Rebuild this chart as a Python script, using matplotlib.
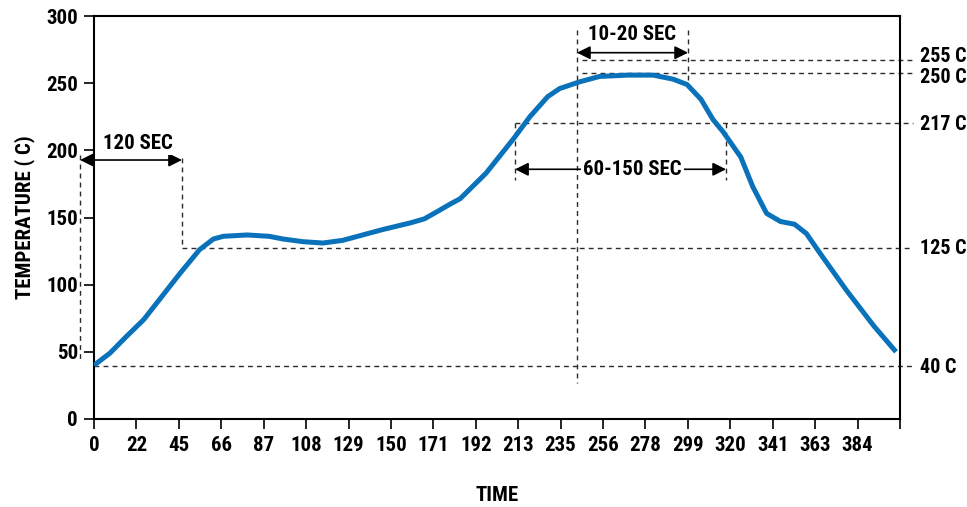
import numpy as np
import matplotlib.pyplot as plt

# reflow profile
time_s = [0, 8, 16, 25, 34, 43, 53, 60, 65, 77, 88, 95, 105, 115, 125, 135, 145,
          159, 166, 172, 179, 184, 197, 211, 219, 228, 234, 244, 254, 268, 281,
          291, 298, 305, 311, 316, 325, 331, 338, 345, 352, 358, 365, 378, 392, 403]
temp_c = [40, 49, 61, 74, 91, 108, 126, 134, 136, 137, 136, 134, 132, 131, 133,
          137, 141, 146, 149, 154, 160, 164, 183, 209, 225, 240, 246, 251, 255,
          256, 256, 253, 249, 238, 223, 214, 195, 173, 153, 147, 145, 138, 123,
          96, 69, 50]

xtick_labels = ['0', '22', '45', '66', '87', '108', '129', '150', '171', '192',
                '213', '235', '256', '278', '299', '320', '341', '363', '384', '']
yticks = [0, 50, 100, 150, 200, 250, 300]

# reference levels (where they sit in the drawing) and their labels
level_y = [267.3, 257.4, 220.2, 127.1, 39.5]
level_x0 = [245, 245, 211.6, 44.2, 0]
level_labels = ['255 C', '250 C', '217 C', '125 C', '40 C']
label_y = [269.7, 253.9, 219.4, 127.0, 38.5]

# vertical guide lines: x, y_top, y_bottom
guides_x = [-7, 44.2, 242.7, 298.5, 211.6, 317.6]
guides_top = [196.5, 194.3, 289.6, 289.6, 220.2, 220.2]
guides_bot = [43.9, 127.1, 26.8, 248.6, 177.9, 177.9]

# span arrows: label, x left, x right, arrow y, text x, text y
spans = [('120 SEC', -7, 44.2, 192.8, 22, 205),
         ('10-20 SEC', 242.7, 298.5, 272.7, 270.5, 286),
         ('60-150 SEC', 211.6, 317.6, 185.9, 270.5, 185.9)]

plt.rcParams['font.family'] = ['Roboto Condensed', 'DejaVu Sans']
plt.rcParams['font.weight'] = 'bold'

fig = plt.figure(figsize=(9.67, 5.07), dpi=100)
ax = fig.add_axes([0.0972, 0.1736, 0.8335, 0.7948])

dash = (0, (3.5, 3))
dcol = '#2a2a2a'
for y, x0 in zip(level_y, level_x0):
    ax.plot([x0, 411.5], [y, y], ls=dash, color=dcol, lw=1.0, clip_on=False)
for x, y1, y2 in zip(guides_x, guides_top, guides_bot):
    ax.plot([x, x], [y1, y2], ls=dash, color=dcol, lw=1.0, clip_on=False)

ax.plot(time_s, temp_c, color='#0a72ba', lw=3.6, solid_capstyle='butt',
        solid_joinstyle='round', zorder=3)

for lab, xa, xb, ya, tx, ty in spans:
    ax.annotate('', xy=(xa, ya), xytext=(xb, ya),
                arrowprops=dict(arrowstyle='<|-|>', color='k', lw=1.2,
                                mutation_scale=20, shrinkA=0, shrinkB=0),
                annotation_clip=False)
    ax.text(tx, ty, lab, ha='center', va='center', fontsize=15, fontweight='bold',
            bbox=dict(facecolor='white', edgecolor='none', pad=1.5), zorder=4)

for y, lab in zip(label_y, level_labels):
    ax.text(415, y, lab, ha='left', va='center', fontsize=14.5, fontweight='bold',
            clip_on=False)

ax.set_xlim(0, 405)
ax.set_ylim(0, 300)
ax.set_xticks(np.linspace(0, 405, 20))
ax.set_xticklabels(xtick_labels)
ax.set_yticks(yticks)
ax.tick_params(axis='both', length=7.5, width=1.2, labelsize=15, pad=4)
ax.tick_params(axis='x', pad=5)
for s in ax.spines.values():
    s.set_linewidth(1.5)

ax.set_xlabel('TIME', fontsize=15, fontweight='bold', labelpad=22)
ax.set_ylabel('TEMPERATURE ( C)', fontsize=15, fontweight='bold', labelpad=8)

fig.savefig('out.png', dpi=100)
